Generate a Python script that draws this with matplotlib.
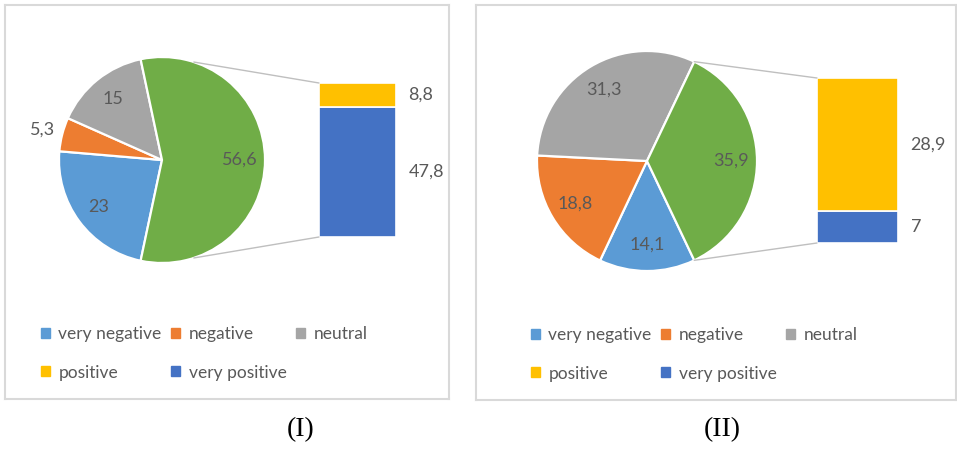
import matplotlib.pyplot as plt
from matplotlib.patches import Patch, ConnectionPatch
import numpy as np

plt.rcParams['font.family'] = ['Lato', 'DejaVu Sans']

# data
categories = ['very negative', 'negative', 'neutral', 'positive', 'very positive']
panel_names = ['(I)', '(II)']
values_1 = [23, 5.3, 15, 8.8, 47.8]
values_2 = [14.1, 18.8, 31.3, 28.9, 7]
shown_1 = ['23', '5,3', '15', '8,8', '47,8']
shown_2 = ['14,1', '18,8', '31,3', '28,9', '7']
other_shown = ['56,6', '35,9']

colors = ['#5B9BD5', '#ED7D31', '#A5A5A5', '#FFC000', '#4472C4']
other_color = '#70AD47'
text_color = '#595959'

W, H = 957, 449
fig = plt.figure(figsize=(W / 100, H / 100), dpi=100)


def px_axes(x0, y0, x1, y1):
    # axes from pixel box (y measured from top)
    return fig.add_axes([x0 / W, 1 - y1 / H, (x1 - x0) / W, (y1 - y0) / H])


# pixel layout for each panel
layouts = [
    dict(box=(5, 5, 449, 399), center=(162, 160), r=103, bar=(319, 83, 396, 237),
         leg=(41, 337), cap=(301, 430)),
    dict(box=(476, 5, 956, 400), center=(647, 161), r=110, bar=(817, 78, 898, 243),
         leg=(531, 338), cap=(722, 430)),
]

for values, shown, oth, name, lay in zip([values_1, values_2], [shown_1, shown_2],
                                         other_shown, panel_names, layouts):
    # frame box
    bx = px_axes(*lay['box'])
    bx.set_xticks([])
    bx.set_yticks([])
    for s in bx.spines.values():
        s.set_color('#D9D9D9')
        s.set_linewidth(1.5)

    # pie of the first three categories plus the combined "other"
    other = values[3] + values[4]
    pie_vals = values[:3] + [other]
    total = sum(pie_vals)
    start = -other / total * 180
    cx, cy = lay['center']
    r = lay['r']
    pax = px_axes(cx - r, cy - r, cx + r, cy + r)
    wedges, _ = pax.pie(pie_vals, colors=colors[:3] + [other_color], startangle=start,
                        counterclock=False,
                        wedgeprops=dict(edgecolor='white', linewidth=1.6))
    pax.set_xlim(-1, 1)
    pax.set_ylim(-1, 1)
    pax.set_aspect('equal')

    labels = shown[:3] + [oth]
    for w, lab, v in zip(wedges, labels, pie_vals):
        mid = np.deg2rad((w.theta1 + w.theta2) / 2)
        d = 1.2 if v / total < 0.1 else 0.76
        pax.text(d * np.cos(mid), d * np.sin(mid), lab, ha='center', va='center',
                 fontsize=13, color=text_color)

    # stacked bar for positive / very positive
    bar_ax = px_axes(*lay['bar'])
    bar_ax.bar(0, values[4], width=1, color=colors[4], edgecolor='white', linewidth=1.2)
    bar_ax.bar(0, values[3], width=1, bottom=values[4], color=colors[3],
               edgecolor='white', linewidth=1.2)
    bar_ax.set_xlim(-0.5, 0.5)
    bar_ax.set_ylim(0, other)
    bar_ax.axis('off')
    bar_ax.annotate(shown[4], (0.5, values[4] / 2), xytext=(9, 0), textcoords='offset points',
                    ha='left', va='center', fontsize=13, color=text_color,
                    annotation_clip=False)
    bar_ax.annotate(shown[3], (0.5, values[4] + values[3] / 2), xytext=(9, 0),
                    textcoords='offset points', ha='left', va='center', fontsize=13,
                    color=text_color, annotation_clip=False)

    # connector lines from pie edge to bar corners
    half = min(other / total * 180, 72)
    for sgn, ybar in [(1, other), (-1, 0)]:
        a = np.deg2rad(sgn * half)
        con = ConnectionPatch(xyA=(-0.5, ybar), coordsA=bar_ax.transData,
                              xyB=(np.cos(a), np.sin(a)), coordsB=pax.transData,
                              color='#BFBFBF', linewidth=1.0)
        fig.add_artist(con)

    # legend, row-major order with 3 columns
    handles = [Patch(color=c, label=l) for c, l in zip(colors, categories)]
    order = [0, 3, 1, 4, 2]
    lx, ly = lay['leg']
    fig.legend([handles[i] for i in order], [categories[i] for i in order],
               loc='upper left', bbox_to_anchor=(lx / W, 1 - (ly - 11) / H),
               ncol=3, frameon=False, fontsize=12.5, handlelength=0.5, handleheight=0.5,
               handletextpad=0.5, columnspacing=0.55, labelspacing=1.3,
               labelcolor=text_color, borderpad=0, borderaxespad=0)

    fig.text(lay['cap'][0] / W, 1 - lay['cap'][1] / H, name, ha='center', va='center',
             fontsize=20, family='Liberation Serif', color='black')

fig.savefig('out.png', dpi=100)
